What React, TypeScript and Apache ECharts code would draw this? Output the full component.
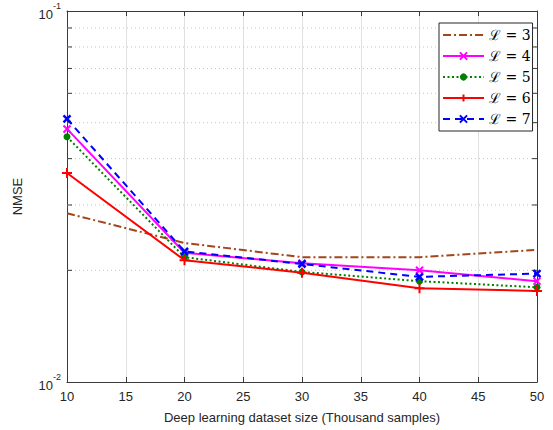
import React, { useEffect, useRef } from 'react';
import * as echarts from 'echarts';

const xValues = [10, 20, 30, 40, 50];
const seriesNames = ['ℒ = 3', 'ℒ = 4', 'ℒ = 5', 'ℒ = 6', 'ℒ = 7'];
const nmseL3 = [0.0285, 0.0237, 0.0217, 0.0217, 0.0227];
const nmseL4 = [0.0481, 0.0223, 0.0209, 0.02, 0.0187];
const nmseL5 = [0.0458, 0.0217, 0.0198, 0.0187, 0.018];
const nmseL6 = [0.0366, 0.0213, 0.0197, 0.0179, 0.0176];
const nmseL7 = [0.0512, 0.0225, 0.0208, 0.0192, 0.0196];
const minorGridValues = [0.02, 0.03, 0.04, 0.05, 0.06, 0.07, 0.08, 0.09];
const xMin = 10;
const xMax = 50;
const xInterval = 5;
const yMin = 0.01;
const yMax = 0.1;

const AXIS_COLOR = '#3a3a3a';
const SANS = '"Liberation Sans", Arial, Helvetica, sans-serif';

const crossPath = 'path://M0,0L10,10M10,0L0,10';
const plusPath = 'path://M5,0L5,10M0,5L10,5';

function pairs(vals: number[]) {
  return xValues.map((x, i) => [x, vals[i]]);
}

export default function App() {
  const ref = useRef<HTMLDivElement>(null);
  useEffect(() => {
    if (!ref.current) return;
    const chart = echarts.init(ref.current, null, { renderer: 'svg' });
    const yLabelFormatter = (v: number) => {
      const e = Math.round(Math.log10(v));
      return '{b|10}{s|' + e + '}';
    };
    const option: any = {
      animation: false,
      backgroundColor: '#ffffff',
      grid: { left: 67, right: 16, top: 11, bottom: 48, containLabel: false },
      legend: {
        data: [
          { name: seriesNames[0], itemStyle: { opacity: 0 } },
          seriesNames[1],
          seriesNames[2],
          seriesNames[3],
          seriesNames[4],
        ],
        orient: 'vertical',
        left: 439,
        top: 23,
        backgroundColor: '#ffffff',
        borderColor: '#262626',
        borderWidth: 1,
        borderRadius: 0,
        padding: [5, 2, 5, 3],
        itemGap: 7,
        itemWidth: 41,
        itemHeight: 9,
        textStyle: { fontFamily: '"DejaVu Serif", serif', fontSize: 14, color: '#000' },
      },
      xAxis: [
        {
          type: 'value',
          min: xMin,
          max: xMax,
          interval: xInterval,
          name: 'Deep learning dataset size (Thousand samples)',
          nameLocation: 'middle',
          nameGap: 29,
          nameTextStyle: { fontFamily: SANS, fontSize: 13, color: '#262626' },
          axisLine: { show: true, lineStyle: { color: AXIS_COLOR, width: 1 } },
          axisTick: { show: true, inside: true, length: 5, lineStyle: { color: AXIS_COLOR } },
          axisLabel: { fontFamily: SANS, fontSize: 13, color: '#262626', margin: 8 },
          splitLine: { show: true, lineStyle: { color: '#e0e0e0', width: 1 } },
        },
        {
          type: 'value',
          position: 'top',
          min: xMin,
          max: xMax,
          interval: xInterval,
          axisLine: { show: true, lineStyle: { color: AXIS_COLOR, width: 1 } },
          axisTick: { show: true, inside: true, length: 5, lineStyle: { color: AXIS_COLOR } },
          axisLabel: { show: false },
          splitLine: { show: false },
        },
      ],
      yAxis: [
        {
          type: 'log',
          logBase: 10,
          min: yMin,
          max: yMax,
          name: 'NMSE',
          nameLocation: 'middle',
          nameGap: 43,
          nameTextStyle: { fontFamily: SANS, fontSize: 13, color: '#262626' },
          axisLine: { show: true, lineStyle: { color: AXIS_COLOR, width: 1 } },
          axisTick: { show: true, inside: true, length: 5, lineStyle: { color: AXIS_COLOR } },
          axisLabel: {
            formatter: yLabelFormatter,
            margin: 6,
            rich: {
              b: { fontFamily: SANS, fontSize: 13, color: '#262626', lineHeight: 19, verticalAlign: 'bottom' },
              s: { fontFamily: SANS, fontSize: 9, color: '#262626', lineHeight: 10, verticalAlign: 'top' },
            },
          },
          splitLine: { show: false },
        },
        {
          type: 'log',
          logBase: 10,
          min: yMin,
          max: yMax,
          position: 'right',
          axisLine: { show: true, lineStyle: { color: AXIS_COLOR, width: 1 } },
          axisTick: { show: true, inside: true, length: 5, lineStyle: { color: AXIS_COLOR } },
          axisLabel: { show: false },
          splitLine: { show: false },
        },
      ],
      series: [
        {
          type: 'custom',
          name: 'minorGrid',
          silent: true,
          z: 1,
          xAxisIndex: 0,
          yAxisIndex: 0,
          data: minorGridValues.map((v) => [xMin, v]),
          renderItem: (params: any, api: any) => {
            const v = api.value(1);
            const p1 = api.coord([xMin, v]);
            const p2 = api.coord([xMax, v]);
            return {
              type: 'group',
              children: [
                {
                  type: 'line',
                  shape: { x1: p1[0], y1: p1[1], x2: p2[0], y2: p2[1] },
                  style: { stroke: '#c4c4c4', lineWidth: 1, lineDash: [1, 3] },
                },
                {
                  type: 'line',
                  shape: { x1: p1[0], y1: p1[1], x2: p1[0] + 5, y2: p1[1] },
                  style: { stroke: AXIS_COLOR, lineWidth: 1 },
                },
                {
                  type: 'line',
                  shape: { x1: p2[0] - 5, y1: p2[1], x2: p2[0], y2: p2[1] },
                  style: { stroke: AXIS_COLOR, lineWidth: 1 },
                },
              ],
            };
          },
        },
        {
          type: 'line',
          name: seriesNames[0],
          data: pairs(nmseL3),
          symbol: 'none',
          z: 3,
          lineStyle: { color: '#a2461c', width: 2, type: [8, 3, 2, 3] },
          itemStyle: { color: '#a2461c' },
        },
        {
          type: 'line',
          name: seriesNames[1],
          data: pairs(nmseL4),
          symbol: crossPath,
          symbolSize: 7,
          z: 4,
          lineStyle: { color: '#ff00ff', width: 2, type: 'solid' },
          itemStyle: { color: '#ff00ff', borderColor: '#ff00ff', borderWidth: 2 },
        },
        {
          type: 'line',
          name: seriesNames[2],
          data: pairs(nmseL5),
          symbol: 'circle',
          symbolSize: 7,
          z: 4,
          lineStyle: { color: '#008000', width: 2, type: [2, 2.5] },
          itemStyle: { color: '#008000' },
        },
        {
          type: 'line',
          name: seriesNames[3],
          data: pairs(nmseL6),
          symbol: plusPath,
          symbolSize: 10,
          z: 5,
          lineStyle: { color: '#ff0000', width: 2, type: 'solid' },
          itemStyle: { color: '#ff0000', borderColor: '#ff0000', borderWidth: 2 },
        },
        {
          type: 'line',
          name: seriesNames[4],
          data: pairs(nmseL7),
          symbol: crossPath,
          symbolSize: 7,
          z: 4,
          lineStyle: { color: '#0000ff', width: 2, type: [7, 5] },
          itemStyle: { color: '#0000ff', borderColor: '#0000ff', borderWidth: 2.5 },
        },
      ],
    };
    chart.setOption(option);
    return () => chart.dispose();
  }, []);
  return (
    <div
      ref={ref}
      style={{ position: 'absolute', left: 0, top: 0, width: 553, height: 430 }}
    />
  );
}
